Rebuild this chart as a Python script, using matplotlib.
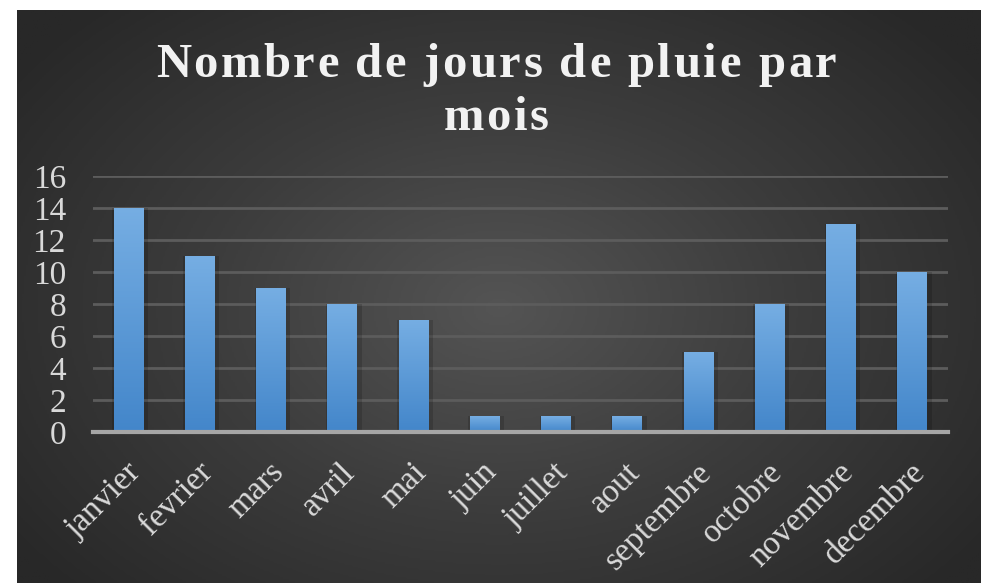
import numpy as np
import matplotlib
matplotlib.use('Agg')
import matplotlib.pyplot as plt
from matplotlib.colors import LinearSegmentedColormap
from matplotlib.transforms import ScaledTranslation

plt.rcParams['font.family'] = ['Liberation Serif', 'DejaVu Serif']

mois = ['janvier', 'fevrier', 'mars', 'avril', 'mai', 'juin', 'juillet',
        'aout', 'septembre', 'octobre', 'novembre', 'decembre']
jours_pluie = [14, 11, 9, 8, 7, 1, 1, 1, 5, 8, 13, 10]
y_ticks = [0, 2, 4, 6, 8, 10, 12, 14, 16]
titre = ['Nombre de jours de pluie par', 'mois']

W, H = 981, 583
fig = plt.figure(figsize=(W / 100, H / 100), dpi=100, facecolor='white')

# fond sombre avec degrade radial
bg = fig.add_axes([17 / W, 0, 1 - 17 / W, 1 - 10 / H])
bg.set_axis_off()
yy, xx = np.mgrid[0:1:300j, 0:1:500j]
r = np.sqrt(((xx - 0.5) / 0.62) ** 2 + ((yy - 0.52) / 0.72) ** 2)
r = np.clip(r, 0, 1)
fond = LinearSegmentedColormap.from_list('fond', ['#545454', '#3c3c3c', '#282828'])
bg.imshow(r, cmap=fond, aspect='auto', extent=[0, 1, 0, 1], vmin=0, vmax=1)
bg.set_xlim(0, 1)
bg.set_ylim(0, 1)

ax = fig.add_axes([93 / W, 1 - 432 / H, (948 - 93) / W, (432 - 176) / H])
ax.patch.set_visible(False)
x = np.arange(len(mois))
bars = ax.bar(x, jours_pluie, width=0.42, color='none', zorder=3)

# degrade vertical dans chaque barre
barre_cmap = LinearSegmentedColormap.from_list('barre', ['#4386ca', '#76aee3'])
grad = np.linspace(0, 1, 256).reshape(-1, 1)
for b in bars:
    x0, w, h = b.get_x(), b.get_width(), b.get_height()
    # ombre legere
    ax.bar(x0 + w / 2 + 0.02, h, width=w + 0.08, color='black', alpha=0.15, zorder=2)
    im = ax.imshow(grad, cmap=barre_cmap, origin='lower', aspect='auto',
                   extent=[x0, x0 + w, 0, h], zorder=3)
    im.set_clip_path(b)

ax.set_xlim(-0.5, len(mois) - 0.5)
ax.set_ylim(0, 16)
ax.set_yticks(y_ticks)
ax.set_yticklabels([str(v) for v in y_ticks])
ax.set_xticks(x)
ax.set_xticklabels(mois, rotation=45, ha='right', va='top', rotation_mode='anchor')
ax.tick_params(axis='both', length=0, colors='#d9d9d9', labelsize=24)
ax.tick_params(axis='y', pad=19.5)
ax.tick_params(axis='x', pad=18)
decal = ScaledTranslation(-3 / 100, 0, fig.dpi_scale_trans)
for lab in ax.get_xticklabels():
    lab.set_transform(lab.get_transform() + decal)

ax.yaxis.grid(True, color='#5c5c5c', linewidth=2, zorder=0)
ax.set_axisbelow(True)
for s in ['top', 'right', 'left']:
    ax.spines[s].set_visible(False)
ax.spines['bottom'].set_color('#a6a6a6')
ax.spines['bottom'].set_linewidth(3)
ax.spines['bottom'].set_zorder(4)

# titre avec espacement des lettres
renderer = fig.canvas.get_renderer()
espace = 2.6


def largeur(s):
    if not s:
        return 0.0
    t = fig.text(0, 0, s, fontsize=35, fontweight='bold')
    wpx = t.get_window_extent(renderer).width
    t.remove()
    return wpx


for ligne, base in zip(titre, [77, 130]):
    total = largeur(ligne) + espace * (len(ligne) - 1)
    x_debut = 496 - total / 2
    for i, c in enumerate(ligne):
        if c == ' ':
            continue
        xp = x_debut + largeur(ligne[:i]) + espace * i
        fig.text(xp / W, 1 - base / H, c, ha='left', va='baseline',
                 fontsize=35, fontweight='bold', color='#f2f2f2')

fig.savefig('out.png', dpi=100, facecolor='white')
